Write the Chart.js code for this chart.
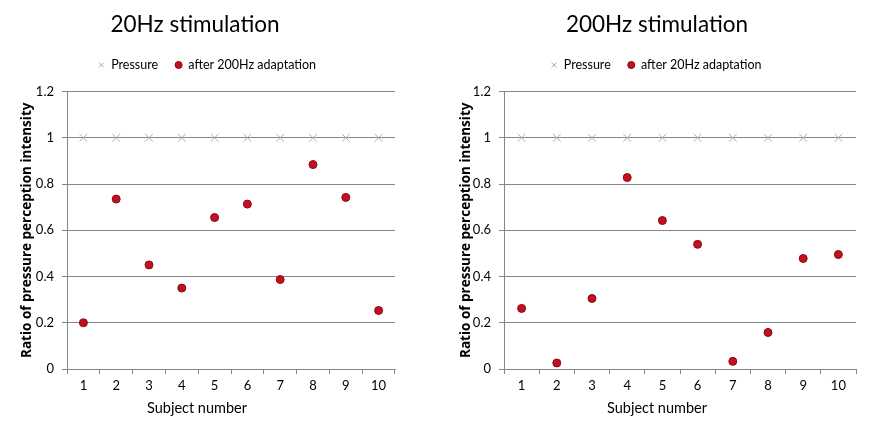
<!DOCTYPE html>
<html><head><meta charset="utf-8">
<script src="https://cdn.jsdelivr.net/npm/chart.js@4/dist/chart.umd.min.js"></script>
<style>
html,body{margin:0;padding:0;background:#fff;}
#wrap{position:relative;width:870px;height:428px;overflow:hidden;}
.c{position:absolute;top:0;width:435px;height:428px;}
</style></head><body>
<div id="wrap">
<div class="c" style="left:0"><canvas id="c1" width="435" height="428"></canvas></div>
<div class="c" style="left:435px"><canvas id="c2" width="435" height="428"></canvas></div>
</div>
<script>
// ---- data ----
const subjects = ['1','2','3','4','5','6','7','8','9','10'];
const pressure = [1,1,1,1,1,1,1,1,1,1];
const after200HzAdaptation = [0.20, 0.735, 0.45, 0.35, 0.655, 0.713, 0.387, 0.884, 0.742, 0.253];
const after20HzAdaptation  = [0.262, 0.026, 0.305, 0.828, 0.642, 0.539, 0.033, 0.158, 0.478, 0.495];
const yTickValues = [0, 0.2, 0.4, 0.6, 0.8, 1, 1.2];
const titles = ['20Hz stimulation', '200Hz stimulation'];
const seriesNames = ['Pressure', 'after 200Hz adaptation', 'after 20Hz adaptation'];
const xTitle = 'Subject number';
const yTitle = 'Ratio of pressure perception intensity';

const GRID = '#878787';
const GILL = 'Lato, "Open Sans", sans-serif';

// positions boxes (title, legend, bottom subtitle) at target centres
const placeBoxes = {
  id: 'placeBoxes',
  afterLayout(chart, args, opts) {
    const shift = (box, dx, dy) => { box.left += dx; box.right += dx; box.top += dy; box.bottom += dy; };
    const t = chart.titleBlock;
    if (t && opts.title) {
      shift(t, opts.title[0] - (t.left + t.right) / 2, opts.title[1] - (t.top + t.bottom) / 2);
    }
    const l = chart.legend;
    if (l && opts.legend) {
      const pad = l.options.labels.padding, fs = l.options.labels.font.size;
      shift(l, opts.legend[0] - (l.left + l.right) / 2, opts.legend[1] - (l.top + pad + fs / 2));
    }
    const s = chart.boxes.find(b => b !== t && b.options && b.options.text === xTitle);
    if (s && opts.sub) {
      shift(s, opts.sub[0] - (s.left + s.right) / 2, opts.sub[1] - (s.top + s.bottom) / 2);
    }
  }
};

function makeChart(id, title, redName, redData, yWidth, yTitlePad, padRight, place) {
  return new Chart(document.getElementById(id), {
    type: 'line',
    data: {
      labels: subjects,
      datasets: [
        { label: seriesNames[0], data: pressure, showLine: false,
          pointStyle: 'crossRot', pointRadius: 5.5, pointHoverRadius: 5.5,
          borderColor: '#adadad', backgroundColor: '#adadad', pointBorderWidth: 1 },
        { label: redName, data: redData, showLine: false,
          pointStyle: 'circle', pointRadius: 4, pointHoverRadius: 4,
          backgroundColor: '#c2101f', borderColor: '#8a0b15', pointBorderWidth: 1 }
      ]
    },
    options: {
      responsive: false,
      animation: false,
      devicePixelRatio: 1,
      layout: { padding: { top: 25, left: 0, right: padRight, bottom: 13 } },
      plugins: {
        tooltip: { enabled: false },
        title: { display: true, text: title, color: '#000',
          font: { family: GILL, size: 22.5, weight: 'normal', lineHeight: 1.2 },
          padding: { top: 0, bottom: 0 } },
        subtitle: { display: true, text: xTitle, position: 'bottom', color: '#000',
          font: { family: GILL, size: 14.5, weight: 'normal', lineHeight: 1.2 },
          padding: { top: 0, bottom: 0 } },
        legend: { display: true, position: 'top',
          labels: { usePointStyle: true, boxWidth: 7, boxHeight: 5, padding: 17, color: '#000',
            font: { family: GILL, size: 12.5 } } },
        placeBoxes: place
      },
      scales: {
        x: {
          type: 'category', offset: true,
          grid: { display: true, offset: true, drawOnChartArea: false, drawTicks: true, tickLength: 5, color: GRID },
          border: { display: true, color: GRID, width: 1 },
          ticks: { color: '#000', padding: 4, font: { family: GILL, size: 13 }, maxRotation: 0 },
          title: { display: false }
        },
        y: {
          min: 0, max: 1.2,
          afterBuildTicks: s => { s.ticks = yTickValues.map(v => ({ value: v })); },
          afterFit: s => { s.width = yWidth; },
          grid: { display: true, drawTicks: true, tickLength: 5, color: GRID },
          border: { display: true, color: GRID, width: 1 },
          ticks: { color: '#000', padding: 8, font: { family: GILL, size: 13 },
            callback: v => String(+(+v).toFixed(1)) },
          title: { display: true, text: yTitle, color: '#000',
            font: { family: '"Open Sans", sans-serif', size: 13.5, weight: 'bold', lineHeight: 1.2 },
            padding: { top: yTitlePad, bottom: 0 } }
        }
      }
    },
    plugins: [placeBoxes]
  });
}

makeChart('c1', titles[0], seriesNames[1], after200HzAdaptation, 67, 19, 40,
  { title: [195, 25], legend: [207, 65], sub: [197, 408] });
makeChart('c2', titles[1], seriesNames[2], after20HzAdaptation, 69, 23, 14,
  { title: [222, 25], legend: [221, 65], sub: [222, 408] });
</script>
</body></html>
